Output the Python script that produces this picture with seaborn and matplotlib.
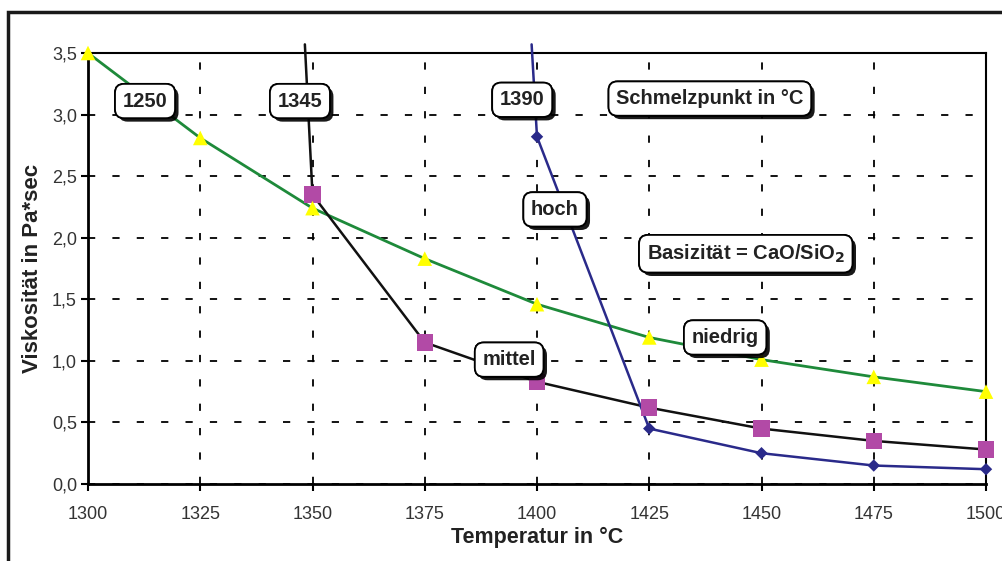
import matplotlib
matplotlib.use("Agg")
import matplotlib.pyplot as plt
import matplotlib.patheffects as pe
from matplotlib.patches import Rectangle
from matplotlib.ticker import FuncFormatter
import seaborn as sns
import pandas as pd

# ---- data ----
temp_niedrig = [1300, 1325, 1350, 1375, 1400, 1425, 1450, 1475, 1500]
visc_niedrig = [3.50, 2.81, 2.24, 1.83, 1.46, 1.19, 1.01, 0.87, 0.75]

temp_mittel = [1348.3, 1350, 1375, 1400, 1425, 1450, 1475, 1500]
visc_mittel = [3.57, 2.35, 1.15, 0.83, 0.62, 0.45, 0.35, 0.28]
mittel_marked = [False, True, True, True, True, True, True, True]

temp_hoch = [1398.8, 1400, 1425, 1450, 1475, 1500]
visc_hoch = [3.57, 2.82, 0.45, 0.25, 0.15, 0.12]
hoch_marked = [False, True, True, True, True, True]

x_ticks = [1300, 1325, 1350, 1375, 1400, 1425, 1450, 1475, 1500]
y_ticks = [0.0, 0.5, 1.0, 1.5, 2.0, 2.5, 3.0, 3.5]

sns.set_style("white")
plt.rcParams['font.family'] = ['Liberation Sans', 'DejaVu Sans']

fig = plt.figure(figsize=(10.03, 5.61), dpi=100)
ax = fig.add_axes([88/1003, 1-484/561, (986-88)/1003, (484-53)/561])

c_green = "#1e8a3a"
c_black = "#111111"
c_blue = "#2a2a8a"

df_n = pd.DataFrame({"T": temp_niedrig, "V": visc_niedrig})
df_m = pd.DataFrame({"T": temp_mittel, "V": visc_mittel, "m": mittel_marked})
df_h = pd.DataFrame({"T": temp_hoch, "V": visc_hoch, "m": hoch_marked})

# lines
sns.lineplot(data=df_n, x="T", y="V", ax=ax, color=c_green, lw=2.0, sort=False, clip_on=False, zorder=3)
sns.lineplot(data=df_m, x="T", y="V", ax=ax, color=c_black, lw=1.8, sort=False, clip_on=False, zorder=3)
sns.lineplot(data=df_h, x="T", y="V", ax=ax, color=c_blue, lw=1.8, sort=False, clip_on=False, zorder=3)

# markers
sns.scatterplot(data=df_n, x="T", y="V", ax=ax, marker="^", color="#ffff00", s=110,
                edgecolor="none", linewidth=0, zorder=5, clip_on=False)
sns.scatterplot(data=df_m[df_m["m"]], x="T", y="V", ax=ax, marker="s", color="#b24aa6", s=140,
                edgecolor="none", linewidth=0, zorder=4, clip_on=False)
sns.scatterplot(data=df_h[df_h["m"]], x="T", y="V", ax=ax, marker="D", color=c_blue, s=40,
                edgecolor="none", linewidth=0, zorder=5, clip_on=False)

ax.set_xlim(1300, 1500)
ax.set_ylim(0, 3.5)
ax.set_xticks(x_ticks)
ax.set_yticks(y_ticks)
ax.yaxis.set_major_formatter(FuncFormatter(lambda v, p: f"{v:.1f}".replace(".", ",")))
ax.xaxis.set_major_formatter(FuncFormatter(lambda v, p: f"{int(v)}"))
ax.grid(True, color="black", linestyle=(0, (4, 9.5)), linewidth=1.3)
for name, s in ax.spines.items():
    s.set_color("black")
    s.set_linewidth(2.0 if name in ("left", "bottom") else 1.5)
ax.tick_params(axis="both", which="major", direction="out", length=5, width=1.5,
               colors="black", labelcolor="#333333", labelsize=13, left=True, bottom=True)
ax.tick_params(axis="x", pad=11)
ax.tick_params(axis="y", pad=3)
ax.set_xlabel("Temperatur in °C", fontsize=15.5, fontweight="bold", color="#222222", labelpad=3)
ax.set_ylabel("Viskosität in Pa*sec", fontsize=16, fontweight="bold", color="#222222", labelpad=6)


def label(x, y, txt, pad=0.38):
    t = ax.text(x, y, txt, ha="center", va="center", fontsize=14.5, fontweight="bold",
                color="#222222", zorder=10,
                bbox=dict(boxstyle=f"round,pad={pad},rounding_size=0.45", fc="white", ec="black", lw=1.3))
    t.get_bbox_patch().set_path_effects([
        pe.withSimplePatchShadow(offset=(2.5, -2.5), shadow_rgbFace="black", alpha=0.9), pe.Normal()])
    return t

label(1312.7, 3.11, "1250")
label(1347.2, 3.11, "1345")
label(1396.7, 3.12, "1390")
label(1438.5, 3.13, "Schmelzpunkt in °C")
label(1404.0, 2.23, "hoch")
label(1446.5, 1.87, r"Basizität = CaO/SiO$_\mathbf{2}$")
label(1441.9, 1.19, "niedrig")
label(1393.8, 1.01, "mittel")

# figure frame
fig.add_artist(Rectangle((8.5/1003, -0.1), 1.2, (1-11.5/561) + 0.1, transform=fig.transFigure,
                         fill=False, ec="#1a1a1a", lw=2.5, clip_on=False))

fig.savefig("out.png", dpi=100)
